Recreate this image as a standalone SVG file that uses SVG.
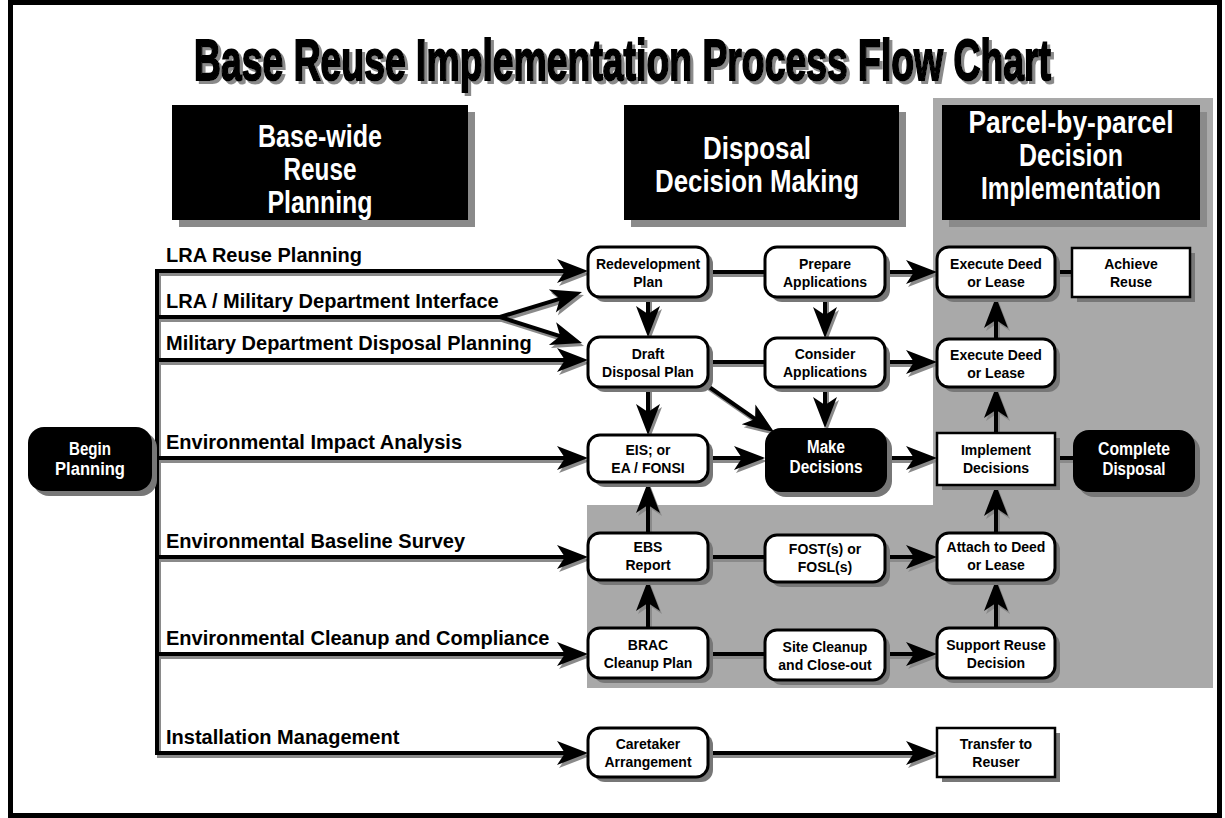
<svg xmlns="http://www.w3.org/2000/svg" width="1225" height="818" viewBox="0 0 1225 818">
<style>
.sh{fill:#777}
.hsh{fill:#8a8a8a}
.wn{fill:#fff;stroke:#000;stroke-width:3}
.sq{fill:#fff;stroke:#000;stroke-width:2.5}
.bn{fill:#000}
.t{font-family:"Liberation Sans",Arial,sans-serif;font-weight:bold;font-size:14px;text-anchor:middle;fill:#000}
.tw{font-family:"Liberation Sans",Arial,sans-serif;font-weight:bold;font-size:18px;text-anchor:middle;fill:#fff}
.hd{font-family:"Liberation Sans",Arial,sans-serif;font-weight:bold;font-size:32px;text-anchor:middle;fill:#fff}
.lbl{font-family:"Liberation Sans",Arial,sans-serif;font-weight:bold;font-size:20px;fill:#000}
.ln{fill:none;stroke:#000;stroke-width:4}
.lns{fill:none;stroke:#8a8a8a;stroke-width:4}
</style>
<defs>
<marker id="arrow" viewBox="-32 -13 34 26" refX="-14" refY="0" markerWidth="34" markerHeight="26" markerUnits="userSpaceOnUse" orient="auto"><path d="M0,0 L-31,-12 L-23,0 L-31,12 Z" fill="#000"/></marker>
<marker id="arrow-sh" viewBox="-32 -13 34 26" refX="-14" refY="0" markerWidth="34" markerHeight="26" markerUnits="userSpaceOnUse" orient="auto"><path d="M0,0 L-31,-12 L-23,0 L-31,12 Z" fill="#8a8a8a"/></marker>
<filter id="tshadow" x="-5%" y="-20%" width="110%" height="150%">
<feOffset in="SourceAlpha" dx="3" dy="3" result="off"/>
<feFlood flood-color="#8a8a8a"/>
<feComposite in2="off" operator="in" result="shadow"/>
<feMerge><feMergeNode in="shadow"/><feMergeNode in="SourceGraphic"/></feMerge>
</filter>
</defs>
<rect x="0" y="0" width="1225" height="818" fill="#fff"/>
<rect x="10.5" y="2.5" width="1209" height="813" fill="none" stroke="#000" stroke-width="5"/>
<path id="gray-region" d="M933,98 H1213 V688 H587 V505 H933 Z" fill="#a9a9a9"/>
<g id="title" filter="url(#tshadow)">
<text transform="translate(622.5,80) scale(1,1.32)" x="0" y="0" text-anchor="middle" textLength="857" lengthAdjust="spacingAndGlyphs" font-family="Liberation Sans, Arial, sans-serif" font-weight="bold" font-size="44" fill="#000" stroke="#000" stroke-width="1.6">Base Reuse Implementation Process Flow Chart</text>
</g>
<g id="hdr-basewide">
<rect class="hsh" x="179" y="112" width="296" height="115"/>
<rect x="172" y="105" width="296" height="115" fill="#000"/>
<text class="hd" x="320" y="147" textLength="124" lengthAdjust="spacingAndGlyphs">Base-wide</text>
<text class="hd" x="320" y="180" textLength="73" lengthAdjust="spacingAndGlyphs">Reuse</text>
<text class="hd" x="320" y="213" textLength="105" lengthAdjust="spacingAndGlyphs">Planning</text>
</g>
<g id="hdr-disposal">
<rect class="hsh" x="631" y="112" width="275" height="115"/>
<rect x="624" y="105" width="275" height="115" fill="#000"/>
<text class="hd" x="757" y="159" textLength="108" lengthAdjust="spacingAndGlyphs">Disposal</text>
<text class="hd" x="757" y="192" textLength="204" lengthAdjust="spacingAndGlyphs">Decision Making</text>
</g>
<g id="hdr-parcel">
<rect class="hsh" x="949" y="112" width="258" height="115"/>
<rect x="942" y="105" width="258" height="115" fill="#000"/>
<text class="hd" x="1071" y="133" textLength="205" lengthAdjust="spacingAndGlyphs">Parcel-by-parcel</text>
<text class="hd" x="1071" y="166" textLength="104" lengthAdjust="spacingAndGlyphs">Decision</text>
<text class="hd" x="1071" y="199" textLength="180" lengthAdjust="spacingAndGlyphs">Implementation</text>
</g>
<g id="labels">
<text class="lbl" x="166" y="262">LRA Reuse Planning</text>
<text class="lbl" x="166" y="308">LRA / Military Department Interface</text>
<text class="lbl" x="166" y="350">Military Department Disposal Planning</text>
<text class="lbl" x="166" y="449">Environmental Impact Analysis</text>
<text class="lbl" x="166" y="548">Environmental Baseline Survey</text>
<text class="lbl" x="166" y="645">Environmental Cleanup and Compliance</text>
<text class="lbl" x="166" y="744">Installation Management</text>
</g>
<g id="connector-shadows" transform="translate(2,3)">
<path class="lns" d="M157,269 V755"/>
<path class="lns" d="M155,271 H574" marker-end="url(#arrow-sh)"/>
<path class="lns" d="M155,317 H500"/>
<path class="lns" d="M500,317 L568.6,296.1" marker-end="url(#arrow-sh)"/>
<path class="lns" d="M500,317 L568.7,338.8" marker-end="url(#arrow-sh)"/>
<path class="lns" d="M155,360 H574" marker-end="url(#arrow-sh)"/>
<path class="lns" d="M152,458 H574" marker-end="url(#arrow-sh)"/>
<path class="lns" d="M155,557 H574" marker-end="url(#arrow-sh)"/>
<path class="lns" d="M155,654 H574" marker-end="url(#arrow-sh)"/>
<path class="lns" d="M155,753 H574" marker-end="url(#arrow-sh)"/>
<path class="lns" d="M708,272 H765"/>
<path class="lns" d="M885,272 H923" marker-end="url(#arrow-sh)"/>
<path class="lns" d="M1055,272 H1072"/>
<path class="lns" d="M648,297 V323" marker-end="url(#arrow-sh)"/>
<path class="lns" d="M825,297 V324" marker-end="url(#arrow-sh)"/>
<path class="lns" d="M708,362 H765"/>
<path class="lns" d="M885,362 H923" marker-end="url(#arrow-sh)"/>
<path class="lns" d="M996,339 V311" marker-end="url(#arrow-sh)"/>
<path class="lns" d="M648,387 V421" marker-end="url(#arrow-sh)"/>
<path class="lns" d="M702,382 L762.5,424.1" marker-end="url(#arrow-sh)"/>
<path class="lns" d="M825,387 V414" marker-end="url(#arrow-sh)"/>
<path class="lns" d="M708,458 H751" marker-end="url(#arrow-sh)"/>
<path class="lns" d="M887,458 H923" marker-end="url(#arrow-sh)"/>
<path class="lns" d="M1055,458 H1073"/>
<path class="lns" d="M996,433 V401" marker-end="url(#arrow-sh)"/>
<path class="lns" d="M648,533 V496" marker-end="url(#arrow-sh)"/>
<path class="lns" d="M708,557 H765"/>
<path class="lns" d="M885,557 H923" marker-end="url(#arrow-sh)"/>
<path class="lns" d="M996,533 V499" marker-end="url(#arrow-sh)"/>
<path class="lns" d="M648,628 V594" marker-end="url(#arrow-sh)"/>
<path class="lns" d="M708,654 H765"/>
<path class="lns" d="M885,654 H923" marker-end="url(#arrow-sh)"/>
<path class="lns" d="M996,628 V594" marker-end="url(#arrow-sh)"/>
<path class="lns" d="M708,753 H923" marker-end="url(#arrow-sh)"/>
</g>
<g id="connectors">
<path class="ln" d="M157,269 V755"/>
<path class="ln" d="M155,271 H574" marker-end="url(#arrow)"/>
<path class="ln" d="M155,317 H500"/>
<path class="ln" d="M500,317 L568.6,296.1" marker-end="url(#arrow)"/>
<path class="ln" d="M500,317 L568.7,338.8" marker-end="url(#arrow)"/>
<path class="ln" d="M155,360 H574" marker-end="url(#arrow)"/>
<path class="ln" d="M152,458 H574" marker-end="url(#arrow)"/>
<path class="ln" d="M155,557 H574" marker-end="url(#arrow)"/>
<path class="ln" d="M155,654 H574" marker-end="url(#arrow)"/>
<path class="ln" d="M155,753 H574" marker-end="url(#arrow)"/>
<path class="ln" d="M708,272 H765"/>
<path class="ln" d="M885,272 H923" marker-end="url(#arrow)"/>
<path class="ln" d="M1055,272 H1072"/>
<path class="ln" d="M648,297 V323" marker-end="url(#arrow)"/>
<path class="ln" d="M825,297 V324" marker-end="url(#arrow)"/>
<path class="ln" d="M708,362 H765"/>
<path class="ln" d="M885,362 H923" marker-end="url(#arrow)"/>
<path class="ln" d="M996,339 V311" marker-end="url(#arrow)"/>
<path class="ln" d="M648,387 V421" marker-end="url(#arrow)"/>
<path class="ln" d="M702,382 L762.5,424.1" marker-end="url(#arrow)"/>
<path class="ln" d="M825,387 V414" marker-end="url(#arrow)"/>
<path class="ln" d="M708,458 H751" marker-end="url(#arrow)"/>
<path class="ln" d="M887,458 H923" marker-end="url(#arrow)"/>
<path class="ln" d="M1055,458 H1073"/>
<path class="ln" d="M996,433 V401" marker-end="url(#arrow)"/>
<path class="ln" d="M648,533 V496" marker-end="url(#arrow)"/>
<path class="ln" d="M708,557 H765"/>
<path class="ln" d="M885,557 H923" marker-end="url(#arrow)"/>
<path class="ln" d="M996,533 V499" marker-end="url(#arrow)"/>
<path class="ln" d="M648,628 V594" marker-end="url(#arrow)"/>
<path class="ln" d="M708,654 H765"/>
<path class="ln" d="M885,654 H923" marker-end="url(#arrow)"/>
<path class="ln" d="M996,628 V594" marker-end="url(#arrow)"/>
<path class="ln" d="M708,753 H923" marker-end="url(#arrow)"/>
</g>
<g id="node-begin">
<rect class="sh" x="33" y="432" width="124" height="64" rx="16"/>
<rect class="bn" x="28" y="427" width="124" height="64" rx="16"/>
<text class="tw" x="90" y="455" textLength="42" lengthAdjust="spacingAndGlyphs">Begin</text>
<text class="tw" x="90" y="475" textLength="70" lengthAdjust="spacingAndGlyphs">Planning</text>
</g>
<g id="node-redevelopment">
<rect class="sh" x="593" y="252" width="120" height="50" rx="12"/>
<rect class="wn" x="588" y="247" width="120" height="50" rx="12"/>
<text class="t" x="648" y="269">Redevelopment</text>
<text class="t" x="648" y="287">Plan</text>
</g>
<g id="node-prepare">
<rect class="sh" x="770" y="252" width="120" height="50" rx="12"/>
<rect class="wn" x="765" y="247" width="120" height="50" rx="12"/>
<text class="t" x="825" y="269">Prepare</text>
<text class="t" x="825" y="287">Applications</text>
</g>
<g id="node-execute1">
<rect class="sh" x="942" y="252" width="118" height="50" rx="12"/>
<rect class="wn" x="937" y="247" width="118" height="50" rx="12"/>
<text class="t" x="996" y="269">Execute Deed</text>
<text class="t" x="996" y="287">or Lease</text>
</g>
<g id="node-achieve">
<rect class="sh" x="1077" y="253" width="118" height="49"/>
<rect class="sq" x="1072" y="248" width="118" height="49"/>
<text class="t" x="1131" y="269">Achieve</text>
<text class="t" x="1131" y="287">Reuse</text>
</g>
<g id="node-draft">
<rect class="sh" x="593" y="342" width="120" height="50" rx="12"/>
<rect class="wn" x="588" y="337" width="120" height="50" rx="12"/>
<text class="t" x="648" y="359">Draft</text>
<text class="t" x="648" y="377">Disposal Plan</text>
</g>
<g id="node-consider">
<rect class="sh" x="770" y="343" width="120" height="49" rx="12"/>
<rect class="wn" x="765" y="338" width="120" height="49" rx="12"/>
<text class="t" x="825" y="359">Consider</text>
<text class="t" x="825" y="377">Applications</text>
</g>
<g id="node-execute2">
<rect class="sh" x="942" y="344" width="118" height="48" rx="12"/>
<rect class="wn" x="937" y="339" width="118" height="48" rx="12"/>
<text class="t" x="996" y="360">Execute Deed</text>
<text class="t" x="996" y="378">or Lease</text>
</g>
<g id="node-eis">
<rect class="sh" x="593" y="440" width="120" height="47" rx="12"/>
<rect class="wn" x="588" y="435" width="120" height="47" rx="12"/>
<text class="t" x="648" y="455">EIS; or</text>
<text class="t" x="648" y="473">EA / FONSI</text>
</g>
<g id="node-make">
<rect class="sh" x="770" y="433" width="122" height="64" rx="16"/>
<rect class="bn" x="765" y="428" width="122" height="64" rx="16"/>
<text class="tw" x="826" y="453" textLength="38" lengthAdjust="spacingAndGlyphs">Make</text>
<text class="tw" x="826" y="473" textLength="73" lengthAdjust="spacingAndGlyphs">Decisions</text>
</g>
<g id="node-implement">
<rect class="sh" x="942" y="438" width="118" height="52"/>
<rect class="sq" x="937" y="433" width="118" height="52"/>
<text class="t" x="996" y="455">Implement</text>
<text class="t" x="996" y="473">Decisions</text>
</g>
<g id="node-complete">
<rect class="sh" x="1078" y="435" width="122" height="62" rx="16"/>
<rect class="bn" x="1073" y="430" width="122" height="62" rx="16"/>
<text class="tw" x="1134" y="455" textLength="72" lengthAdjust="spacingAndGlyphs">Complete</text>
<text class="tw" x="1134" y="475" textLength="63" lengthAdjust="spacingAndGlyphs">Disposal</text>
</g>
<g id="node-ebs">
<rect class="sh" x="593" y="538" width="120" height="47" rx="12"/>
<rect class="wn" x="588" y="533" width="120" height="47" rx="12"/>
<text class="t" x="648" y="552">EBS</text>
<text class="t" x="648" y="570">Report</text>
</g>
<g id="node-fost">
<rect class="sh" x="770" y="540" width="120" height="47" rx="12"/>
<rect class="wn" x="765" y="535" width="120" height="47" rx="12"/>
<text class="t" x="825" y="554">FOST(s) or</text>
<text class="t" x="825" y="572">FOSL(s)</text>
</g>
<g id="node-attach">
<rect class="sh" x="942" y="538" width="118" height="47" rx="12"/>
<rect class="wn" x="937" y="533" width="118" height="47" rx="12"/>
<text class="t" x="996" y="552">Attach to Deed</text>
<text class="t" x="996" y="570">or Lease</text>
</g>
<g id="node-brac">
<rect class="sh" x="593" y="633" width="120" height="50" rx="12"/>
<rect class="wn" x="588" y="628" width="120" height="50" rx="12"/>
<text class="t" x="648" y="650">BRAC</text>
<text class="t" x="648" y="668">Cleanup Plan</text>
</g>
<g id="node-site">
<rect class="sh" x="770" y="635" width="120" height="50" rx="12"/>
<rect class="wn" x="765" y="630" width="120" height="50" rx="12"/>
<text class="t" x="825" y="652">Site Cleanup</text>
<text class="t" x="825" y="670">and Close-out</text>
</g>
<g id="node-support">
<rect class="sh" x="942" y="633" width="118" height="50" rx="12"/>
<rect class="wn" x="937" y="628" width="118" height="50" rx="12"/>
<text class="t" x="996" y="650">Support Reuse</text>
<text class="t" x="996" y="668">Decision</text>
</g>
<g id="node-caretaker">
<rect class="sh" x="593" y="733" width="120" height="49" rx="12"/>
<rect class="wn" x="588" y="728" width="120" height="49" rx="12"/>
<text class="t" x="648" y="749">Caretaker</text>
<text class="t" x="648" y="767">Arrangement</text>
</g>
<g id="node-transfer">
<rect class="sh" x="942" y="733" width="118" height="49"/>
<rect class="sq" x="937" y="728" width="118" height="49"/>
<text class="t" x="996" y="749">Transfer to</text>
<text class="t" x="996" y="767">Reuser</text>
</g>
</svg>
